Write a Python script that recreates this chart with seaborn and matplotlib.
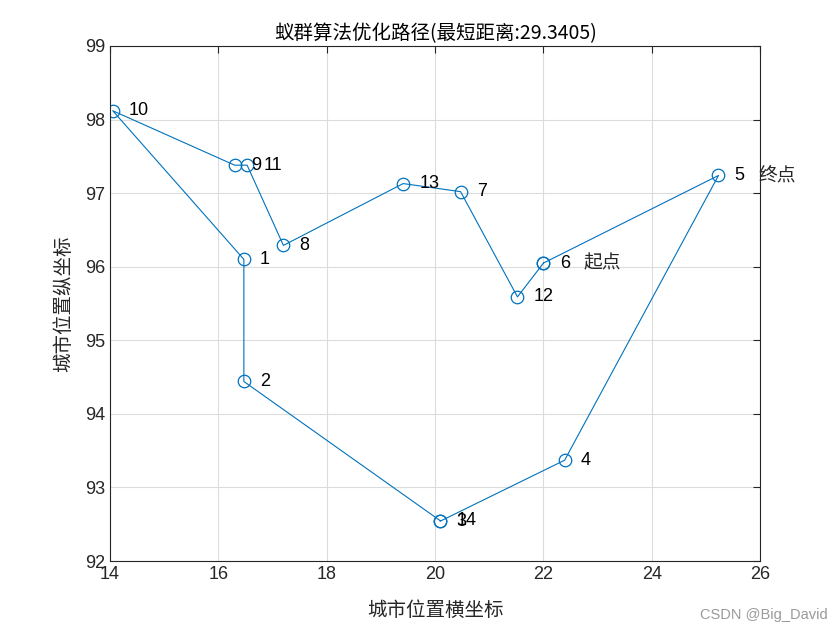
import matplotlib
matplotlib.use('Agg')
import matplotlib.pyplot as plt
import seaborn as sns
import pandas as pd

# city coordinates (burma14)
city_x = [16.47, 16.47, 20.09, 22.39, 25.23, 22.00, 20.47,
          17.20, 16.30, 14.05, 16.53, 21.52, 19.41, 20.09]
city_y = [96.10, 94.44, 92.54, 93.37, 97.24, 96.05, 97.02,
          96.29, 97.38, 98.12, 97.38, 95.59, 97.13, 92.55]
# best route (1-based city numbers), closed back to start
route = [6, 12, 7, 13, 8, 11, 9, 10, 1, 2, 14, 3, 4, 5, 6]
best_len = 29.3405

sns.set_style('white')
plt.rcParams['font.family'] = ['Liberation Sans', 'Noto Sans CJK SC', 'DejaVu Sans']
cjk = ['Noto Sans CJK SC', 'DejaVu Sans']

df = pd.DataFrame({'x': [city_x[i - 1] for i in route],
                   'y': [city_y[i - 1] for i in route],
                   'step': range(len(route))})

fig = plt.figure(figsize=(8.4, 6.3), dpi=100)
ax = fig.add_axes([0.131, 0.1095, 0.774, 0.8175])
blue = '#0072BD'
sns.lineplot(data=df, x='x', y='y', sort=False, estimator=None, ax=ax,
             color=blue, linewidth=0.8, marker='o', markersize=9,
             markerfacecolor='none', markeredgecolor=blue, markeredgewidth=0.9)

for i in range(len(city_x)):
    ax.text(city_x[i] + 0.3, city_y[i], str(i + 1), fontsize=13,
            ha='left', va='center', color='black')

ax.text(city_x[route[0] - 1] + 0.73, city_y[route[0] - 1], '起点',
        fontsize=13.5, family=cjk, ha='left', va='center')
ax.text(city_x[route[-2] - 1] + 0.73, city_y[route[-2] - 1], '终点',
        fontsize=13.5, family=cjk, ha='left', va='center')

ax.set_xlim(14, 26)
ax.set_ylim(92, 99)
ax.set_xticks(range(14, 27, 2))
ax.set_yticks(range(92, 100))
ax.grid(True, color='#dcdcdc', linewidth=0.8)
ax.tick_params(direction='in', length=5, top=True, right=True,
               labelsize=13, colors='#262626', width=0.8)
for s in ax.spines.values():
    s.set_color('#262626')
    s.set_linewidth(0.8)

ax.set_title('蚁群算法优化路径(最短距离:' + str(best_len) + ')',
             fontsize=14, family=cjk, color='black', pad=5)
ax.set_xlabel('城市位置横坐标', fontsize=14, family=cjk, labelpad=12)
ax.set_ylabel('城市位置纵坐标', fontsize=14, family=cjk, labelpad=8)

fig.text(0.985, 0.012, 'CSDN @Big_David', fontsize=10.5, color='#9a9a9a',
         ha='right', va='bottom')

fig.savefig('out.png', dpi=100)
